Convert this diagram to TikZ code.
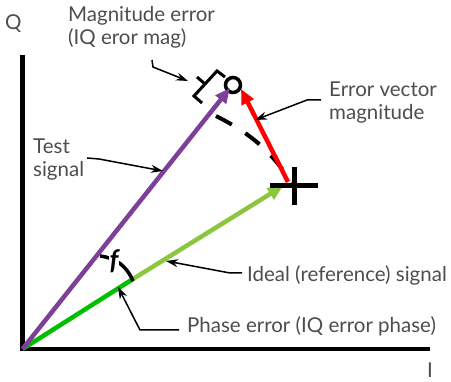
\documentclass[tikz,border=0pt]{standalone}
\usepackage{fontspec}
\setmainfont{Lato}
\usetikzlibrary{arrows.meta,positioning}
\definecolor{labelgray}{HTML}{4D4D4D}
\definecolor{testpurple}{HTML}{7E3F98}
\definecolor{idealgreen}{HTML}{8CC63F}
\definecolor{phasegreen}{HTML}{00BE00}
\definecolor{errred}{HTML}{FF0000}

\begin{document}
\begin{tikzpicture}[x=1pt,y=-1pt,>=Latex,
  lbl/.style={font=\fontsize{20.5}{23.5}\selectfont,text=labelgray,align=left,anchor=base west,inner sep=0pt},
  leader/.style={line width=1.5pt,-{Stealth[length=12pt,width=8pt]}},
  vec/.style={line width=4.5pt,-{Triangle[length=15pt,width=13pt]}},
  bracketline/.style={line width=3pt,line cap=butt}]
\useasboundingbox (0,0) rectangle (451,382);
% axes
\coordinate (O) at (22.5,349);
\coordinate (qtop) at (22.5,55);
\coordinate (iend) at (430,349);
\draw[line width=4.5pt] (qtop) -- (O) -- (iend);
\node[lbl] (qlbl) at (5,30) {Q};
\node[lbl] (ilbl) at (427,378) {I};
% points
\coordinate (idealtip) at (283,186);
\coordinate (greenjoin) at (133,279);
\coordinate (testtip) at (230,88);
\coordinate (idealpt) at (294,186);
\node[draw,circle,line width=3.5pt,minimum size=15pt,inner sep=0pt] (meas) at (233,85) {};
% dashed magnitude arc
\coordinate (arcstart) at (216,116);
\draw[line width=4pt,dash pattern=on 18pt off 16pt] (arcstart) to[bend left=15] (idealpt);
% vectors
\draw[line width=4.5pt,phasegreen] (O) -- (greenjoin);
\draw[vec,idealgreen] (greenjoin) -- (idealtip);
\draw[vec,testpurple] (O) -- (testtip);
\coordinate (errstart) at (288,182);
\coordinate (errtip) at (241,89);
\draw[vec,errred] (errstart) -- (errtip);
% ideal point cross
\draw[line width=5pt] (idealpt) ++(-24,0) -- ++(48,0);
\draw[line width=5pt] (idealpt) ++(0,-19) -- ++(0,38);
% magnitude error bracket
\draw[bracketline] (202,103) -- (194,96) -- (217,71) -- (225,77);
\draw[bracketline] (205,84) -- (197,77);
% phase angle
\coordinate (phs) at (100,256);
\coordinate (phe) at (133,281);
\draw[line width=3.5pt] (phs) to[bend left=30] (phe);
\node[fill=white,inner sep=0.3pt,font=\fontsize{27}{27}\selectfont\bfseries\itshape] (phi) at (114,261) {f};
% labels
\node[lbl] (maglbl) at (68,45) {Magnitude error\\(IQ eror mag)};
\node[lbl] (evmlbl) at (329,120) {Error vector\\magnitude};
\node[lbl] (testlbl) at (33,177) {Test\\signal};
\node[lbl] (ideallbl) at (247,282) {Ideal (reference) signal};
\node[lbl] (phaselbl) at (187,333) {Phase error (IQ error phase)};
% leaders
\coordinate (magA) at (152,60);
\coordinate (magB) at (153,67);
\coordinate (magC) at (188,81);
\draw[leader] (magA) -- (magB) -- (magC);
\coordinate (evmA) at (321,100);
\coordinate (evmB) at (307,100);
\coordinate (evmC) at (255,120);
\draw[leader] (evmA) -- (evmB) -- (evmC);
\coordinate (testA) at (87,158);
\coordinate (testB) at (99,159);
\coordinate (testC) at (163,171);
\draw[leader] (testA) -- (testB) -- (testC);
\coordinate (idealA) at (242,273);
\coordinate (idealB) at (230,273);
\coordinate (idealC) at (166,261);
\draw[leader] (idealA) -- (idealB) -- (idealC);
\coordinate (phaseA) at (179,330);
\coordinate (phaseB) at (140,330);
\coordinate (phaseC) at (118,287);
\draw[leader] (phaseA) -- (phaseB) -- (phaseC);
\end{tikzpicture}
\end{document}
